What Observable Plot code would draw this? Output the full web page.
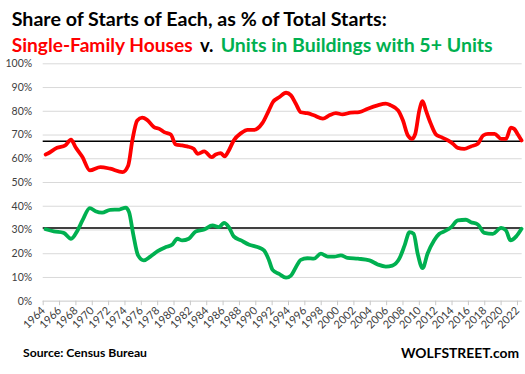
<!DOCTYPE html>
<html>
<head>
<meta charset="utf-8">
<script src="https://cdn.jsdelivr.net/npm/d3@7"></script>
<script src="https://cdn.jsdelivr.net/npm/@observablehq/plot@0.6"></script>
<style>
  html, body { margin: 0; padding: 0; background: #fff; }
  #wrap { width: 525px; height: 374px; position: relative; overflow: hidden; background: #fff; }
  svg { display: block; overflow: visible; }
</style>
</head>
<body>
<div id="wrap"></div>
<script>
// ---- Data ----
const titleLine1 = "Share of Starts of Each, as % of Total Starts:";
const titleSingle = "Single-Family Houses";
const titleV = "v.";
const titleMulti = "Units in Buildings with 5+ Units";
const sourceText = "Source: Census Bureau";
const brandText = "WOLFSTREET.com";

const xTicks = [1964, 1966, 1968, 1970, 1972, 1974, 1976, 1978, 1980, 1982, 1984, 1986, 1988, 1990,
  1992, 1994, 1996, 1998, 2000, 2002, 2004, 2006, 2008, 2010, 2012, 2014, 2016, 2018, 2020, 2022];
const yTicks = [0, 10, 20, 30, 40, 50, 60, 70, 80, 90, 100];

// Single-family houses, % of total starts
const sfYears = [1964.3, 1964.5, 1965.7, 1966.7, 1967.4, 1968.0, 1968.8, 1969.7, 1971.0, 1972.2, 1973.7, 1974.4,
  1974.9, 1975.5, 1976.1, 1976.7, 1977.55, 1978.2, 1978.8, 1979.6, 1980.2, 1981.0, 1981.6, 1982.4, 1982.9,
  1983.7, 1984.6, 1985.1, 1985.7, 1986.2, 1986.7, 1987.3, 1988.2, 1989.0, 1989.8, 1990.8, 1991.6, 1992.1,
  1992.9, 1993.7, 1994.3, 1994.9, 1995.5, 1996.3, 1997.1, 1998.2, 1999.0, 1999.8, 2000.6, 2001.6, 2002.65,
  2003.7, 2004.9, 2005.9, 2006.5, 2007.4, 2008.0, 2008.6, 2009.1, 2009.5, 2010.0, 2010.4, 2010.8, 2011.4,
  2012.05, 2012.7, 2013.5, 2014.1, 2014.7, 2015.5, 2016.3, 2017.15, 2017.8, 2018.4, 2019.2, 2020.0, 2020.6,
  2021.2, 2021.6, 2022.05, 2022.5];
const sfShare = [61.8, 62.1, 64.6, 65.6, 68.0, 64.6, 60.7, 55.1, 56.5, 55.8, 54.4, 57.2,
  67.7, 76.1, 77.3, 76.4, 73.3, 72.6, 71.2, 70.2, 66.0, 65.6, 65.2, 64.2, 62.1,
  63.1, 60.7, 61.8, 62.4, 61.0, 63.5, 67.7, 70.8, 72.2, 72.2, 75.0, 80.4, 83.9,
  86.0, 87.8, 86.7, 83.2, 79.6, 79.2, 78.3, 76.9, 78.3, 79.2, 78.7, 79.4, 79.6,
  81.1, 82.5, 83.2, 82.5, 80.4, 76.1, 69.8, 68.4, 70.5, 80.4, 84.3, 80.4, 74.8,
  70.2, 69.1, 67.7, 66.3, 64.6, 64.2, 65.2, 66.3, 69.8, 70.5, 70.5, 68.4, 68.4,
  73.1, 72.6, 70.2, 67.7];

// Units in buildings with 5+ units, % of total starts
const mfYears = [1964.3, 1965.3, 1966.5, 1967.4, 1968.2, 1968.8, 1969.7, 1970.4, 1971.2, 1972.2, 1973.3, 1974.1,
  1974.5, 1975.0, 1975.6, 1976.3, 1977.1, 1978.0, 1979.0, 1979.8, 1980.4, 1981.0, 1981.8, 1982.65, 1983.7,
  1984.7, 1985.5, 1986.1, 1986.7, 1987.3, 1988.2, 1989.2, 1990.2, 1991.0, 1991.6, 1992.05, 1992.85, 1993.7,
  1994.3, 1994.9, 1995.5, 1996.3, 1997.1, 1997.96, 1998.8, 1999.6, 2000.4, 2001.2, 2002.5, 2003.9, 2004.9,
  2005.9, 2006.7, 2007.55, 2008.2, 2008.8, 2009.3, 2009.8, 2010.4, 2011.0, 2011.8, 2012.45, 2013.05, 2013.9,
  2014.7, 2015.7, 2016.3, 2017.15, 2017.95, 2019.0, 2020.0, 2020.6, 2021.15, 2021.85, 2022.5];
const mfShare = [30.3, 29.4, 28.8, 26.3, 29.8, 34.0, 39.2, 37.9, 37.3, 38.5, 38.6, 39.4,
  37.5, 28.4, 19.3, 17.2, 18.8, 21.1, 22.8, 23.9, 26.3, 25.6, 26.3, 29.4, 30.2,
  31.9, 31.2, 33.0, 31.2, 27.3, 25.6, 23.8, 22.8, 21.4, 17.4, 13.2, 11.5, 9.9,
  10.8, 14.3, 17.4, 18.1, 17.9, 20.0, 18.8, 18.8, 19.3, 18.3, 17.9, 17.2, 15.5,
  14.6, 15.0, 17.9, 23.5, 29.1, 28.4, 20.0, 13.9, 20.0, 25.6, 28.4, 29.4, 31.2,
  34.0, 34.3, 33.3, 32.3, 28.8, 28.4, 30.9, 29.8, 25.6, 27.3, 30.5];

// Long-term averages (black reference lines)
const averages = [67.4, 30.8];

// ---- Header ----
const wrap = d3.select("#wrap");
const hdr = wrap.append("svg").attr("width", 525).attr("height", 55);
const hfont = "Lato, 'Open Sans', sans-serif";
function htext(svg, x, y, txt, len, fill, size, anchor) {
  svg.append("text").attr("x", x).attr("y", y)
    .attr("font-family", hfont).attr("font-weight", 700).attr("font-size", size)
    .attr("fill", fill).attr("textLength", len).attr("lengthAdjust", "spacingAndGlyphs")
    .attr("text-anchor", anchor || "start")
    .text(txt);
}
htext(hdr, 11.7, 26, titleLine1, 375, "#000", 19);
htext(hdr, 11.7, 52, titleSingle, 181, "#ff0000", 19);
htext(hdr, 200, 52, titleV, 13.5, "#000", 19);
htext(hdr, 220.7, 52, titleMulti, 272, "#00b050", 19);

// ---- Chart ----
const chart = Plot.plot({
  width: 525,
  height: 285,
  marginTop: 8.3,
  marginBottom: 39.3,
  marginLeft: 42.7,
  marginRight: 3.3,
  style: { fontFamily: "Lato, sans-serif", fontSize: "10.5px", color: "#404040", background: "#fff" },
  x: { domain: [1964, 2022.58], label: null },
  y: { domain: [0, 100], label: null },
  marks: [
    Plot.gridY(yTicks, { stroke: "#d9d9d9", strokeOpacity: 1, strokeWidth: 1 }),
    Plot.ruleY([0], { stroke: "#d9d9d9", strokeWidth: 1 }),
    Plot.axisY({ ticks: yTicks, tickFormat: d => d + "%", tickSize: 0, tickPadding: 11, fill: "#404040", fontSize: 10.5, label: null }),
    Plot.axisX({ ticks: xTicks, tickFormat: d => String(d), tickRotate: -45, tickSize: 4.5, tickPadding: 3,
      stroke: "#c8c8c8", fill: "#404040", fontSize: 11, label: null }),
    Plot.ruleY(averages, { stroke: "#000", strokeWidth: 1.5 }),
    Plot.line(sfYears, { x: sfYears, y: sfShare, stroke: "#ff0000", strokeWidth: 3.8, curve: "monotone-x" }),
    Plot.line(mfYears, { x: mfYears, y: mfShare, stroke: "#00b050", strokeWidth: 3.8, curve: "monotone-x" })
  ]
});
wrap.node().appendChild(chart);

// ---- Footer ----
const ftr = wrap.append("svg").attr("width", 525).attr("height", 34);
htext(ftr, 23, 17, sourceText, 124, "#000", 12);
htext(ftr, 519, 17.5, brandText, 118, "#000", 14, "end");
</script>
</body>
</html>
